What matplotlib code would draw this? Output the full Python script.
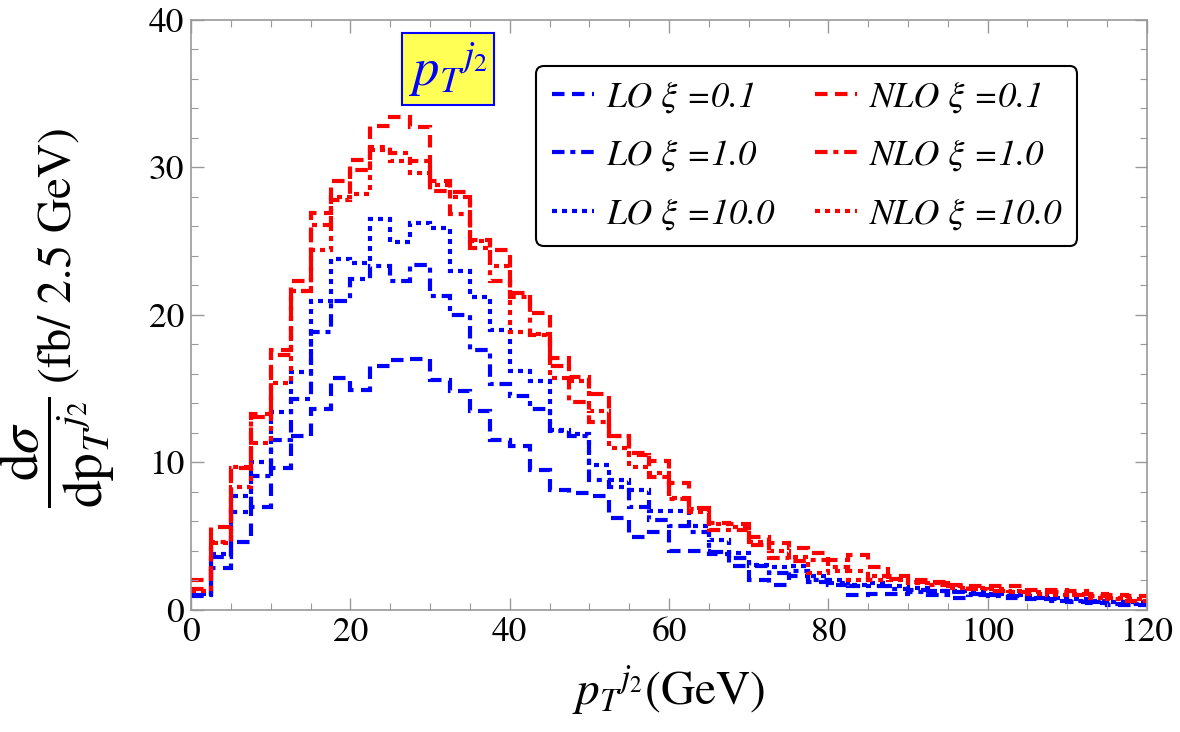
import matplotlib
matplotlib.use("Agg")
import matplotlib.pyplot as plt
import numpy as np

plt.rcParams['font.family'] = ['STIXGeneral', 'DejaVu Serif']
plt.rcParams['mathtext.fontset'] = 'stix'

# 2.5 GeV bins from 0 to 120
edges = np.arange(0, 122.5, 2.5)

lo_01 = [0.9, 2.8, 4.6, 7.0, 9.6, 11.8, 13.6, 15.7, 14.9, 16.5, 16.9, 17.0,
         15.6, 14.8, 13.5, 11.5, 11.1, 9.5, 8.1, 7.9, 7.7, 6.2, 4.9, 5.3,
         4.0, 4.0, 3.8, 3.0, 2.0, 1.7, 2.3, 1.9, 1.7, 1.0, 1.1, 1.1,
         1.35, 1.25, 0.8, 1.1, 1.0, 0.8, 0.7, 0.7, 0.55, 0.45, 0.3, 0.35]
lo_1 = [1.0, 3.6, 6.6, 9.1, 11.5, 14.3, 18.8, 20.9, 22.4, 23.3, 22.3, 23.4,
        21.3, 20.0, 17.6, 15.3, 14.5, 13.6, 12.1, 11.8, 8.8, 8.3, 7.0, 6.1,
        5.7, 5.3, 3.9, 3.5, 3.0, 2.5, 2.6, 2.0, 1.8, 1.6, 1.6, 1.4,
        1.2, 1.0, 1.2, 1.0, 0.9, 0.9, 0.8, 0.6, 0.6, 0.5, 0.4, 0.4]
lo_10 = [1.1, 3.8, 7.7, 10.0, 13.4, 16.1, 20.9, 23.8, 23.5, 26.5, 24.9, 26.2,
         25.9, 23.0, 21.2, 19.0, 16.2, 15.5, 12.2, 11.9, 9.8, 8.8, 8.1, 6.7,
         6.7, 5.7, 4.75, 3.85, 3.05, 2.9, 3.0, 2.3, 2.0, 1.7, 1.8, 1.6,
         1.5, 1.3, 1.25, 1.2, 1.1, 1.0, 0.9, 0.8, 0.7, 0.6, 0.5, 0.5]
nlo_01 = [2.0, 5.6, 9.6, 13.3, 17.6, 22.3, 26.9, 29.1, 30.5, 32.8, 33.4, 32.7,
          29.1, 28.3, 25.1, 24.4, 21.5, 20.1, 17.1, 15.8, 14.6, 11.8, 10.6, 10.1,
          8.6, 6.9, 5.9, 5.8, 4.9, 4.5, 4.2, 3.85, 3.4, 3.7, 2.9, 2.3,
          2.0, 1.9, 1.7, 1.6, 1.6, 1.6, 1.35, 1.35, 1.25, 1.1, 1.0, 0.9]
nlo_1 = [1.4, 4.6, 9.7, 13.1, 17.3, 21.6, 26.1, 27.8, 29.8, 31.4, 31.0, 30.4,
         28.4, 26.8, 24.5, 22.3, 21.2, 18.6, 16.5, 14.1, 12.7, 11.8, 10.5, 9.0,
         7.5, 6.8, 5.4, 5.4, 4.4, 3.5, 3.3, 3.4, 2.9, 2.6, 2.0, 2.1,
         1.9, 1.7, 1.6, 1.4, 1.3, 1.2, 1.1, 1.2, 1.0, 0.9, 0.7, 0.6]
nlo_10 = [1.3, 4.5, 8.3, 11.3, 15.4, 21.6, 24.4, 28.0, 28.2, 31.2, 30.4, 29.6,
          28.8, 28.0, 25.0, 23.3, 18.8, 18.7, 15.7, 15.5, 13.5, 11.0, 9.7, 9.3,
          7.6, 6.6, 5.8, 5.6, 4.6, 4.0, 3.6, 2.5, 2.6, 2.0, 2.3, 2.0,
          1.8, 1.8, 1.5, 1.5, 1.4, 1.3, 1.2, 1.0, 1.1, 0.8, 0.8, 0.7]

labels = ["LO ξ =0.1", "LO ξ =1.0", "LO ξ =10.0",
          "NLO ξ =0.1", "NLO ξ =1.0", "NLO ξ =10.0"]

dashed = (0, (3.0, 1.8))
dashdot = (0, (3.0, 1.4, 1.2, 1.4))
dotted = (0, (1.2, 1.2))

fig = plt.figure(figsize=(11.8, 7.32), dpi=100)
ax = fig.add_axes([0.162, 0.167, 0.810, 0.806])

series = [(lo_01, 'blue', dashed), (lo_1, 'blue', dashdot), (lo_10, 'blue', dotted),
          (nlo_01, 'red', dashed), (nlo_1, 'red', dashdot), (nlo_10, 'red', dotted)]
for (vals, col, ls), lab in zip(series, labels):
    ax.stairs(vals, edges, baseline=None, color=col, linestyle=ls, linewidth=3.0, label=lab)

ax.set_xlim(0, 120)
ax.set_ylim(0, 40)
ax.set_xticks(np.arange(0, 121, 20))
ax.set_xticks(np.arange(0, 121, 5), minor=True)
ax.set_yticks(np.arange(0, 41, 10))
ax.set_yticks(np.arange(0, 41, 2), minor=True)
ax.tick_params(which='both', direction='in', top=True, right=True, color='#999999',
               labelsize=25.5, pad=5)
ax.tick_params(which='major', length=9, width=1)
ax.tick_params(which='minor', length=5, width=0.8)
for s in ax.spines.values():
    s.set_color('#999999')
    s.set_linewidth(1.2)

ax.set_xlabel(r'$p_T{}^{j_2}$(GeV)', fontsize=34, labelpad=12)

# y label: big fraction + units, as two rotated texts
fig.text(0.049, 0.382, r'$\dfrac{\mathrm{d}\sigma}{\mathrm{dp}_T{}^{j_2}}$', rotation=90,
         fontsize=40, ha='center', va='center')
fig.text(0.050, 0.652, '(fb/ 2.5 GeV)', rotation=90, fontsize=34, ha='center', va='center')

ax.text(0.269, 0.916, r'$p_T{}^{j_2}$', transform=ax.transAxes, ha='center', va='center',
        fontsize=38, color='blue',
        bbox=dict(boxstyle='square,pad=0.12', facecolor='#ffff55', edgecolor='blue', linewidth=1.5))

leg = ax.legend(loc='upper right', bbox_to_anchor=(0.927, 0.921), ncol=2, frameon=True,
                fancybox=True, framealpha=1, edgecolor='black', borderaxespad=0,
                prop=dict(family='STIXGeneral', style='italic', size=26),
                handlelength=1.16, handletextpad=0.36, columnspacing=1.1,
                labelspacing=0.72, borderpad=0.42)
leg.get_frame().set_linewidth(1.5)

fig.savefig("out.png", dpi=100)
